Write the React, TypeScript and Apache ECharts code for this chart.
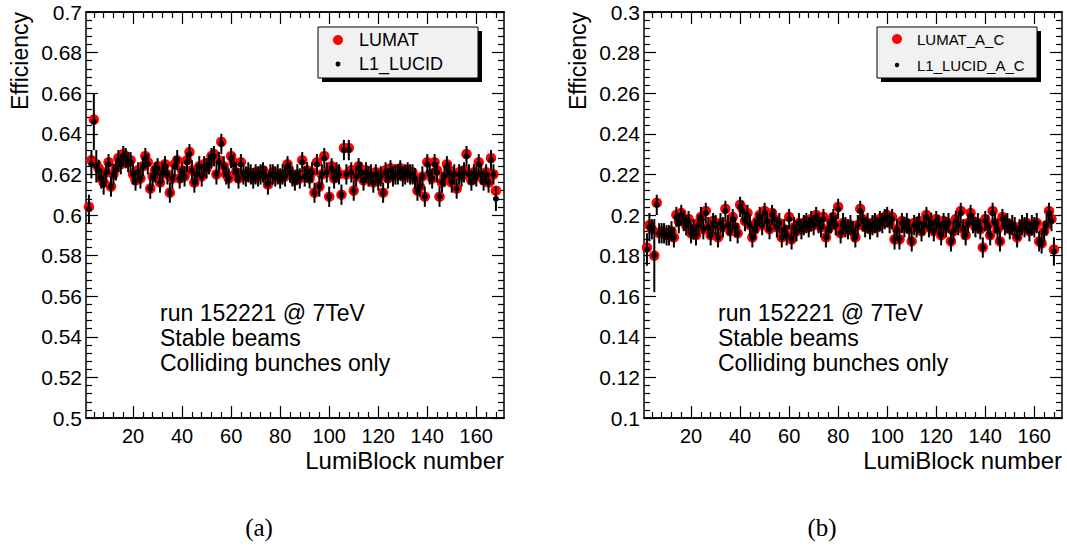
import React, { useEffect, useRef } from "react";
import * as echarts from "echarts";

// LumiBlock numbers start at 2, one point per block
const FIRST_LB = 2;

// (a) efficiencies, lumi blocks 2..168
const lumatA = [
  0.604, 0.627, 0.647, 0.625, 0.623, 0.618, 0.616, 0.621, 0.626, 0.614,
  0.620, 0.623, 0.628, 0.625, 0.630, 0.629, 0.626, 0.627, 0.620, 0.617,
  0.622, 0.618, 0.624, 0.629, 0.626, 0.613, 0.619, 0.622, 0.624, 0.616,
  0.621, 0.625, 0.620, 0.611, 0.618, 0.625, 0.627, 0.618, 0.622, 0.619,
  0.627, 0.631, 0.622, 0.616, 0.621, 0.624, 0.619, 0.625, 0.623, 0.626,
  0.629, 0.630, 0.620, 0.627, 0.636, 0.624, 0.620, 0.618, 0.629, 0.626,
  0.621, 0.618, 0.626, 0.620, 0.619, 0.621, 0.620, 0.618, 0.621, 0.619,
  0.620, 0.622, 0.619, 0.615, 0.620, 0.621, 0.619, 0.620, 0.618, 0.620,
  0.619, 0.625, 0.621, 0.619, 0.617, 0.620, 0.618, 0.627, 0.619, 0.622,
  0.618, 0.621, 0.611, 0.626, 0.614, 0.620, 0.629, 0.621, 0.609, 0.624,
  0.618, 0.622, 0.620, 0.610, 0.633, 0.620, 0.633, 0.622, 0.612, 0.619,
  0.624, 0.621, 0.617, 0.622, 0.619, 0.620, 0.616, 0.621, 0.617, 0.619,
  0.611, 0.622, 0.618, 0.623, 0.619, 0.621, 0.620, 0.623, 0.619, 0.620,
  0.622, 0.620, 0.621, 0.618, 0.612, 0.614, 0.619, 0.609, 0.626, 0.620,
  0.618, 0.626, 0.622, 0.609, 0.616, 0.619, 0.625, 0.622, 0.616, 0.620,
  0.613, 0.621, 0.619, 0.622, 0.630, 0.620, 0.617, 0.621, 0.619, 0.626,
  0.620, 0.617, 0.621, 0.616, 0.628, 0.620, 0.612,
];
const l1LucidA = [
  0.603, 0.625, 0.646, 0.624, 0.622, 0.618, 0.615, 0.621, 0.625, 0.614,
  0.620, 0.622, 0.627, 0.625, 0.629, 0.628, 0.626, 0.626, 0.620, 0.617,
  0.621, 0.618, 0.624, 0.628, 0.625, 0.613, 0.619, 0.621, 0.623, 0.616,
  0.621, 0.624, 0.620, 0.611, 0.618, 0.624, 0.627, 0.618, 0.621, 0.619,
  0.626, 0.630, 0.622, 0.616, 0.620, 0.624, 0.619, 0.624, 0.623, 0.625,
  0.628, 0.629, 0.620, 0.626, 0.635, 0.624, 0.620, 0.618, 0.628, 0.625,
  0.621, 0.618, 0.625, 0.620, 0.619, 0.621, 0.620, 0.618, 0.620, 0.619,
  0.620, 0.621, 0.619, 0.615, 0.620, 0.620, 0.619, 0.620, 0.618, 0.620,
  0.619, 0.624, 0.621, 0.619, 0.617, 0.620, 0.618, 0.626, 0.619, 0.621,
  0.618, 0.621, 0.611, 0.625, 0.614, 0.620, 0.628, 0.621, 0.609, 0.623,
  0.618, 0.621, 0.620, 0.610, 0.632, 0.620, 0.632, 0.621, 0.612, 0.619,
  0.623, 0.621, 0.617, 0.621, 0.619, 0.620, 0.616, 0.620, 0.617, 0.619,
  0.611, 0.621, 0.618, 0.622, 0.619, 0.620, 0.620, 0.622, 0.619, 0.620,
  0.621, 0.620, 0.620, 0.618, 0.612, 0.614, 0.619, 0.609, 0.625, 0.620,
  0.618, 0.625, 0.621, 0.609, 0.616, 0.619, 0.624, 0.621, 0.616, 0.620,
  0.613, 0.620, 0.619, 0.621, 0.629, 0.620, 0.617, 0.620, 0.619, 0.625,
  0.620, 0.617, 0.620, 0.616, 0.627, 0.620, 0.608,
];

// (b) efficiencies, lumi blocks 2..168
const lumatB = [
  0.184, 0.195, 0.193, 0.180, 0.206, 0.191, 0.192, 0.191, 0.190, 0.191,
  0.192, 0.189, 0.200, 0.197, 0.201, 0.197, 0.195, 0.198, 0.191, 0.193,
  0.190, 0.196, 0.199, 0.193, 0.202, 0.194, 0.190, 0.197, 0.195, 0.189,
  0.196, 0.194, 0.203, 0.195, 0.192, 0.199, 0.194, 0.191, 0.205, 0.203,
  0.197, 0.201, 0.195, 0.189, 0.193, 0.197, 0.200, 0.195, 0.202, 0.197,
  0.193, 0.201, 0.198, 0.194, 0.196, 0.189, 0.193, 0.190, 0.199, 0.188,
  0.194, 0.192, 0.196, 0.193, 0.195, 0.197, 0.194, 0.198, 0.195, 0.200,
  0.196, 0.194, 0.199, 0.189, 0.193, 0.197, 0.199, 0.195, 0.204, 0.191,
  0.196, 0.194, 0.193, 0.195, 0.192, 0.189, 0.195, 0.203, 0.198, 0.194,
  0.196, 0.193, 0.195, 0.197, 0.194, 0.198, 0.196, 0.199, 0.200, 0.196,
  0.199, 0.188, 0.193, 0.188, 0.197, 0.194, 0.196, 0.193, 0.187, 0.196,
  0.194, 0.197, 0.192, 0.195, 0.200, 0.194, 0.196, 0.192, 0.198, 0.195,
  0.190, 0.197, 0.194, 0.196, 0.187, 0.192, 0.198, 0.195, 0.202, 0.193,
  0.190, 0.196, 0.201, 0.197, 0.194, 0.196, 0.193, 0.184, 0.198, 0.195,
  0.190, 0.202, 0.196, 0.193, 0.187, 0.199, 0.195, 0.196, 0.193, 0.195,
  0.194, 0.189, 0.193, 0.195, 0.194, 0.196, 0.192, 0.195, 0.194, 0.196,
  0.187, 0.186, 0.192, 0.195, 0.202, 0.198, 0.183,
];
const l1LucidB = [
  0.183, 0.194, 0.193, 0.180, 0.205, 0.191, 0.191, 0.191, 0.190, 0.190,
  0.192, 0.189, 0.199, 0.196, 0.200, 0.197, 0.195, 0.197, 0.191, 0.193,
  0.190, 0.195, 0.199, 0.193, 0.201, 0.194, 0.190, 0.196, 0.195, 0.189,
  0.196, 0.194, 0.202, 0.195, 0.192, 0.198, 0.194, 0.191, 0.204, 0.202,
  0.197, 0.200, 0.195, 0.189, 0.193, 0.196, 0.199, 0.195, 0.201, 0.197,
  0.193, 0.200, 0.198, 0.194, 0.196, 0.189, 0.193, 0.190, 0.198, 0.188,
  0.194, 0.192, 0.196, 0.193, 0.195, 0.196, 0.194, 0.197, 0.195, 0.199,
  0.196, 0.194, 0.198, 0.189, 0.193, 0.196, 0.198, 0.195, 0.203, 0.191,
  0.196, 0.194, 0.193, 0.195, 0.192, 0.189, 0.195, 0.202, 0.197, 0.194,
  0.196, 0.193, 0.195, 0.196, 0.194, 0.197, 0.196, 0.198, 0.199, 0.196,
  0.198, 0.188, 0.193, 0.188, 0.196, 0.194, 0.196, 0.193, 0.187, 0.195,
  0.194, 0.196, 0.192, 0.195, 0.199, 0.194, 0.196, 0.192, 0.197, 0.195,
  0.190, 0.196, 0.194, 0.196, 0.187, 0.192, 0.197, 0.195, 0.201, 0.193,
  0.190, 0.196, 0.200, 0.196, 0.194, 0.196, 0.193, 0.184, 0.197, 0.195,
  0.190, 0.201, 0.196, 0.193, 0.187, 0.198, 0.195, 0.196, 0.193, 0.195,
  0.194, 0.189, 0.193, 0.195, 0.194, 0.196, 0.192, 0.195, 0.194, 0.196,
  0.187, 0.186, 0.192, 0.195, 0.201, 0.197, 0.182,
];

// statistical errors: typical value plus the larger ones
const ERR_TYPICAL_A = 0.005;
const errExceptionsA: Record<number, number> = { 2: 0.007, 3: 0.007, 4: 0.014, 5: 0.008, 168: 0.006 };
const ERR_TYPICAL_B = 0.005;
const errExceptionsB: Record<number, number> = { 2: 0.008, 3: 0.007, 5: 0.018, 168: 0.007 };

const xMajorTicks = [20, 40, 60, 80, 100, 120, 140, 160];
const xMinorTicks = [4, 8, 12, 16, 24, 28, 32, 36, 44, 48, 52, 56, 64, 68, 72, 76, 84, 88, 92, 96,
  104, 108, 112, 116, 124, 128, 132, 136, 144, 148, 152, 156, 164, 168];

const X_MIN = 0.8;
const X_MAX = 171.3;
const yRangeA = [0.5, 0.7];
const yRangeB = [0.1, 0.3];
const Y_STEP = 0.02;

const legendA = ["LUMAT", "L1_LUCID"];
const legendB = ["LUMAT_A_C", "L1_LUCID_A_C"];
const runLines = ["run 152221 @ 7TeV", "Stable beams", "Colliding bunches only"];
const xTitle = "LumiBlock number";
const yTitle = "Efficiency";
const captions = ["(a)", "(b)"];

const SANS = "'Liberation Sans', Arial, Helvetica, sans-serif";
const SERIF = "'Liberation Serif', 'DejaVu Serif', serif";

function pts(vals: number[]) {
  return vals.map((v, i) => [FIRST_LB + i, v]);
}
function errPts(vals: number[], typ: number, exc: Record<number, number>) {
  return vals.map((v, i) => {
    const lb = FIRST_LB + i;
    return [lb, v, exc[lb] !== undefined ? exc[lb] : typ];
  });
}

export default function App() {
  const ref = useRef<HTMLDivElement>(null);
  useEffect(() => {
    if (!ref.current) return;
    const chart = echarts.init(ref.current, undefined, { renderer: "svg" });

    const grids = [
      { left: 86, top: 12, width: 418, height: 406 },
      { left: 644, top: 12, width: 418, height: 406 },
    ];

    const axisLine = { show: true, lineStyle: { color: "#000", width: 1.5 } };

    const xAxes: any[] = [];
    const yAxes: any[] = [];
    [0, 1].forEach((g) => {
      const base = { type: "value", gridIndex: g, min: X_MIN, max: X_MAX, splitLine: { show: false }, axisLine };
      xAxes.push({
        ...base,
        position: "bottom",
        axisTick: { show: true, inside: true, length: 12, customValues: xMajorTicks, lineStyle: { color: "#000", width: 1.2 } },
        axisLabel: { show: true, customValues: xMajorTicks, fontFamily: SANS, fontSize: 20, color: "#000", margin: 8 },
      });
      xAxes.push({
        ...base,
        position: "bottom",
        axisTick: { show: true, inside: true, length: 6, customValues: xMinorTicks, lineStyle: { color: "#000", width: 1.2 } },
        axisLabel: { show: false },
      });
      xAxes.push({
        ...base,
        position: "top",
        axisTick: { show: true, inside: true, length: 12, customValues: xMajorTicks, lineStyle: { color: "#000", width: 1.2 } },
        axisLabel: { show: false },
      });
      xAxes.push({
        ...base,
        position: "top",
        axisTick: { show: true, inside: true, length: 6, customValues: xMinorTicks, lineStyle: { color: "#000", width: 1.2 } },
        axisLabel: { show: false },
      });
      const yr = g === 0 ? yRangeA : yRangeB;
      const ybase = {
        type: "value",
        gridIndex: g,
        min: yr[0],
        max: yr[1],
        interval: Y_STEP,
        splitLine: { show: false },
        axisLine,
        axisTick: { show: true, inside: true, length: 12, lineStyle: { color: "#000", width: 1.2 } },
        minorTick: { show: true, splitNumber: 5, length: 6, lineStyle: { color: "#000", width: 1.2 } },
        minorSplitLine: { show: false },
      };
      yAxes.push({
        ...ybase,
        position: "left",
        axisLabel: { show: true, fontFamily: SANS, fontSize: 21, color: "#000", margin: 4 },
      });
      yAxes.push({ ...ybase, position: "right", axisLabel: { show: false } });
    });

    const errRender = (params: any, api: any) => {
      const x = api.value(0);
      const y = api.value(1);
      const e = api.value(2);
      const a = api.coord([x, y + e]);
      const b = api.coord([x, y - e]);
      return {
        type: "line",
        shape: { x1: a[0], y1: a[1], x2: b[0], y2: b[1] },
        style: { stroke: "#000", lineWidth: 2 },
      };
    };

    const mkSeries = (g: number, red: number[], black: number[], typ: number, exc: Record<number, number>, names: string[]) => [
      {
        type: "scatter",
        name: names[0],
        xAxisIndex: g * 4,
        yAxisIndex: g * 2,
        data: pts(red),
        symbol: "circle",
        symbolSize: 10.5,
        itemStyle: { color: "#ff0000", opacity: 1 },
        z: 2,
      },
      {
        type: "custom",
        name: names[1] + " errors",
        xAxisIndex: g * 4,
        yAxisIndex: g * 2,
        data: errPts(black, typ, exc),
        encode: { x: 0, y: 1 },
        renderItem: errRender,
        z: 3,
      },
      {
        type: "scatter",
        name: names[1],
        xAxisIndex: g * 4,
        yAxisIndex: g * 2,
        data: pts(black),
        symbol: "circle",
        symbolSize: 6,
        itemStyle: { color: "#000", opacity: 1 },
        z: 4,
      },
    ];

    const legendBox = (x: number, y: number, w: number, h: number, labels: string[], fs: number, mx: number, tx: number, y1: number, y2: number, rBlack: number) => ({
      type: "group",
      children: [
        { type: "rect", shape: { x: x + 4, y: y + 4, width: w, height: h }, style: { fill: "#000" }, z: 10 },
        { type: "rect", shape: { x, y, width: w, height: h }, style: { fill: "#f1f1f1", stroke: "#000", lineWidth: 1 }, z: 11 },
        { type: "circle", shape: { cx: mx, cy: y1, r: 5 }, style: { fill: "#ff0000" }, z: 12 },
        { type: "circle", shape: { cx: mx, cy: y2, r: rBlack }, style: { fill: "#000" }, z: 12 },
        { type: "text", x: tx, y: y1, style: { text: labels[0], font: `${fs}px ${SANS}`, fill: "#000", textVerticalAlign: "middle" }, z: 12 },
        { type: "text", x: tx, y: y2, style: { text: labels[1], font: `${fs}px ${SANS}`, fill: "#000", textVerticalAlign: "middle" }, z: 12 },
      ],
    });

    const textLines = (x: number) =>
      runLines.map((t, i) => ({
        type: "text",
        x,
        y: 313 + i * 25,
        style: { text: t, font: `23px ${SANS}`, fill: "#000", textVerticalAlign: "middle" },
      }));

    const titles = (gx: number) => [
      {
        type: "text",
        x: gx + 418,
        y: 460,
        style: { text: xTitle, font: `24px ${SANS}`, fill: "#000", textAlign: "right", textVerticalAlign: "middle" },
      },
      {
        type: "text",
        x: gx - 66,
        y: 12,
        rotation: Math.PI / 2,
        style: { text: yTitle, font: `23px ${SANS}`, fill: "#000", textAlign: "right", textVerticalAlign: "middle" },
      },
    ];

    chart.setOption({
      animation: false,
      backgroundColor: "#fff",
      grid: grids,
      xAxis: xAxes,
      yAxis: yAxes,
      series: [
        ...mkSeries(0, lumatA, l1LucidA, ERR_TYPICAL_A, errExceptionsA, legendA),
        ...mkSeries(1, lumatB, l1LucidB, ERR_TYPICAL_B, errExceptionsB, legendB),
      ],
      graphic: [
        legendBox(318, 27, 160, 51, legendA, 18, 338, 359, 40, 64, 2.5),
        legendBox(877, 27, 160, 51, legendB, 15, 897, 917, 39, 65, 2.2),
        ...textLines(160),
        ...textLines(718),
        ...titles(86),
        ...titles(644),
        { type: "text", x: 259, y: 527, style: { text: captions[0], font: `25px ${SERIF}`, fill: "#000", textAlign: "center", textVerticalAlign: "middle" } },
        { type: "text", x: 822, y: 527, style: { text: captions[1], font: `25px ${SERIF}`, fill: "#000", textAlign: "center", textVerticalAlign: "middle" } },
      ],
    });
    return () => chart.dispose();
  }, []);
  return <div ref={ref} style={{ position: "absolute", left: 0, top: 0, width: 1067, height: 547 }} />;
}
